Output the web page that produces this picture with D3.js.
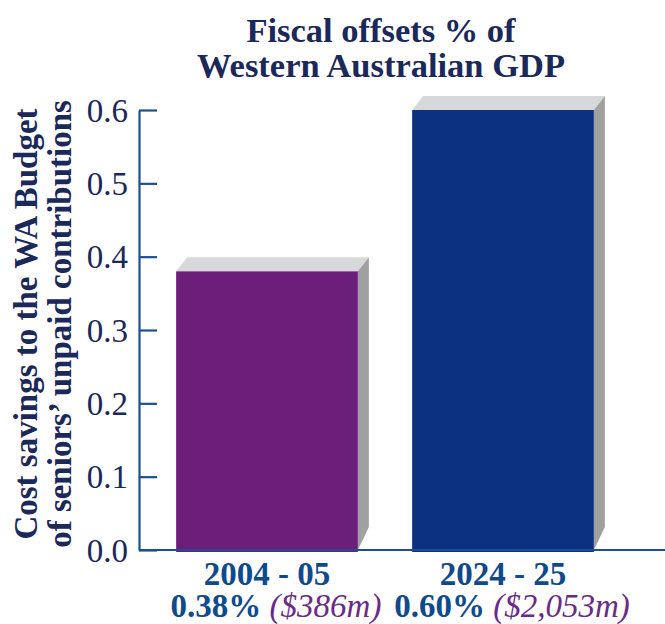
<!DOCTYPE html>
<html>
<head>
<meta charset="utf-8">
<script src="https://cdn.jsdelivr.net/npm/d3@7/dist/d3.min.js"></script>
<style>
  body { margin: 0; background: #fff; }
  svg { display: block; }
  text { font-family: "Liberation Serif", "Times New Roman", serif; }
</style>
</head>
<body>
<div id="chart"></div>
<script>
const periods = ["2004 - 05", "2024 - 25"];
const values = [0.38, 0.60];
const pctLabels = ["0.38%", "0.60%"];
const dollarLabels = ["($386m)", "($2,053m)"];
const barColors = ["#6b1f7b", "#0c3180"];
const yTicks = [0, 0.1, 0.2, 0.3, 0.4, 0.5, 0.6];
const titleLines = ["Fiscal offsets % of", "Western Australian GDP"];
const yLabelLines = ["Cost savings to the WA Budget", "of seniors\u2019 unpaid contributions"];

const width = 665, height = 624;
const depthX = 11, depthY = 14;

const svg = d3.select("#chart").append("svg")
  .attr("width", width)
  .attr("height", height);

const x = d3.scaleBand()
  .domain(periods)
  .range([149, 621])
  .paddingInner(0.23)
  .paddingOuter(0.115);

const y = d3.scaleLinear()
  .domain([0, 0.6])
  .range([550, 110]);

const axisColor = "#1a4f92";
const navy = "#1b285a";

// title
svg.append("g")
  .selectAll("text")
  .data(titleLines)
  .enter().append("text")
  .attr("x", 381)
  .attr("y", (d, i) => 42 + i * 35)
  .attr("text-anchor", "middle")
  .attr("font-size", "34.5px")
  .attr("font-weight", "bold")
  .attr("fill", navy)
  .text(d => d);

// y label
svg.append("g")
  .attr("transform", "translate(0,324) rotate(-90)")
  .selectAll("text")
  .data(yLabelLines)
  .enter().append("text")
  .attr("x", 0)
  .attr("y", (d, i) => 37 + i * 34)
  .attr("text-anchor", "middle")
  .attr("font-size", "33px")
  .attr("font-weight", "bold")
  .attr("fill", navy)
  .text(d => d);

// bars: top face, side face, front face
const bars = svg.append("g")
  .selectAll("g")
  .data(values)
  .enter().append("g");

bars.append("path")
  .attr("fill", "#d7d8da")
  .attr("d", (d, i) => {
    const x0 = x(periods[i]), x1 = x0 + x.bandwidth(), yt = y(d);
    return `M${x0},${yt}L${x0 + depthX},${yt - depthY}L${x1 + depthX},${yt - depthY}L${x1},${yt}Z`;
  });

bars.append("path")
  .attr("fill", "#a0a0a1")
  .attr("d", (d, i) => {
    const x1 = x(periods[i]) + x.bandwidth(), yt = y(d), yb = y(0);
    return `M${x1},${yt}L${x1 + depthX},${yt - depthY}L${x1 + depthX},${yb - depthY - 9}L${x1},${yb}Z`;
  });

bars.append("rect")
  .attr("x", (d, i) => x(periods[i]))
  .attr("y", d => y(d))
  .attr("width", x.bandwidth())
  .attr("height", d => y(0) - y(d) + 2)
  .attr("fill", (d, i) => barColors[i]);

// y axis
const gy = svg.append("g")
  .attr("transform", "translate(139,0)")
  .call(d3.axisLeft(y)
    .tickValues(yTicks)
    .tickFormat(d3.format(".1f"))
    .tickSize(-18)
    .tickSizeOuter(0)
    .tickPadding(11));

gy.selectAll("path, line")
  .attr("stroke", axisColor)
  .attr("stroke-width", 2.2);
gy.selectAll("text")
  .attr("font-family", "Liberation Serif")
  .attr("font-size", "33px")
  .attr("fill", navy)
  .attr("dy", "0.34em");

// baseline
svg.append("line")
  .attr("x1", 139)
  .attr("x2", width)
  .attr("y1", y(0))
  .attr("y2", y(0))
  .attr("stroke", axisColor)
  .attr("stroke-width", 2.2);

// category labels
const labels = svg.append("g")
  .selectAll("g")
  .data(periods)
  .enter().append("g");

labels.append("text")
  .attr("x", d => x(d) + x.bandwidth() / 2)
  .attr("y", 585)
  .attr("text-anchor", "middle")
  .attr("font-size", "33px")
  .attr("font-weight", "bold")
  .attr("fill", "#0f4a8d")
  .text(d => d);

const sub = labels.append("text")
  .attr("x", d => x(d) + x.bandwidth() / 2 + 9)
  .attr("y", 617)
  .attr("text-anchor", "middle")
  .attr("font-size", "33px");

sub.append("tspan")
  .attr("font-weight", "bold")
  .attr("fill", "#0f4a8d")
  .text((d, i) => pctLabels[i] + " ");

sub.append("tspan")
  .attr("font-style", "italic")
  .attr("fill", "#6b2a86")
  .text((d, i) => dollarLabels[i]);
</script>
</body>
</html>
